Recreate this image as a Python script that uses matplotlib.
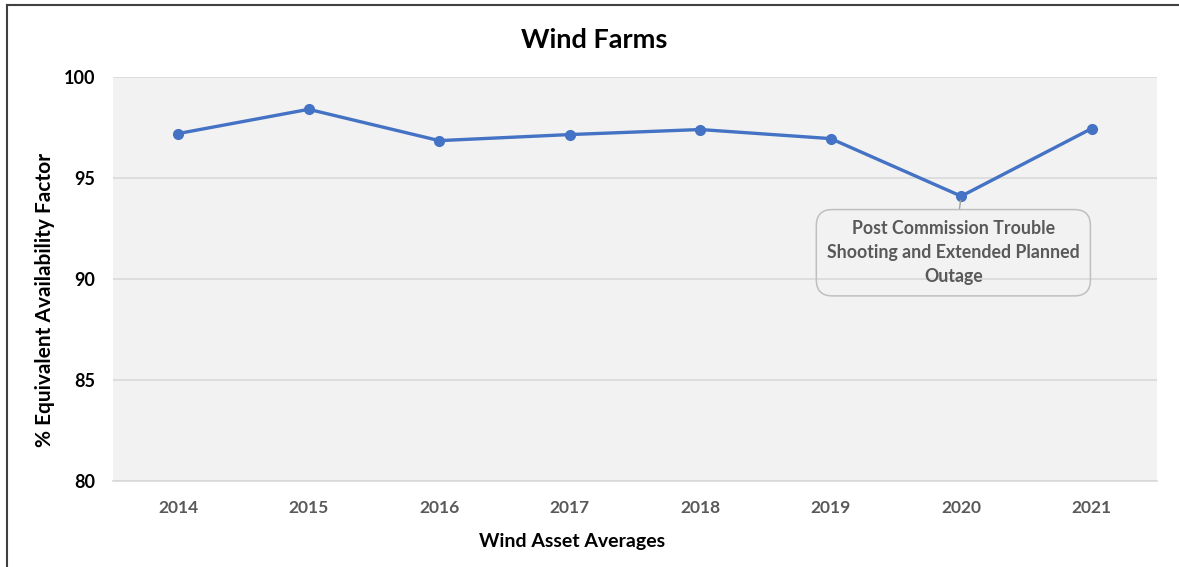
import matplotlib.pyplot as plt
from matplotlib.lines import Line2D

years = ['2014', '2015', '2016', '2017', '2018', '2019', '2020', '2021']
eaf = [97.2, 98.4, 96.85, 97.15, 97.4, 96.95, 94.1, 97.45]
note = "Post Commission Trouble\nShooting and Extended Planned\nOutage"
note_year = '2020'

plt.rcParams['font.family'] = ['Lato', 'DejaVu Sans']

fig = plt.figure(figsize=(11.79, 5.67), dpi=100)
ax = fig.add_axes([0.0958, 0.1517, 0.8855, 0.7125])
ax.set_facecolor('#f2f2f2')

x = list(range(len(years)))
ax.plot(x, eaf, color='#4472c4', linewidth=2.4, marker='o', markersize=7, zorder=3)

ax.set_xlim(-0.5, len(years) - 0.5)
ax.set_ylim(80, 100)
ax.set_yticks([80, 85, 90, 95, 100])
ax.set_xticks(x)
ax.set_xticklabels(years)
ax.grid(axis='y', color='#d9d9d9', linewidth=1.2)
ax.set_axisbelow(True)
for s in ['top', 'right', 'left']:
    ax.spines[s].set_visible(False)
ax.spines['bottom'].set_color('#d9d9d9')
ax.spines['bottom'].set_linewidth(1.2)
ax.tick_params(length=0)
ax.tick_params(axis='x', pad=14, colors='#595959', labelsize=12.5)
ax.tick_params(axis='y', pad=13, colors='black', labelsize=13)
for t in ax.get_xticklabels() + ax.get_yticklabels():
    t.set_fontweight('bold')

ax.set_xlabel('Wind Asset Averages', fontsize=14, fontweight='bold')
ax.xaxis.set_label_coords(0.44, -0.151)
ax.xaxis.label.set_va('center')
ax.set_ylabel('% Equivalent Availability Factor', fontsize=15, fontweight='bold')
ax.yaxis.set_label_coords(-0.065, 0.448)
ax.yaxis.label.set_va('center')
fig.suptitle('Wind Farms', fontsize=19.5, fontweight='bold', x=0.504, y=0.929, va='center')

# callout for the 2020 dip
i = years.index(note_year)
ax.annotate(note, xy=(i, eaf[i]), xytext=(i - 0.06, 91.3),
            ha='center', va='center', fontsize=12.8, fontweight='bold', color='#595959',
            linespacing=1.5,
            bbox=dict(boxstyle='round,pad=0.6,rounding_size=0.9', fc='none', ec='#bfbfbf', lw=1.1),
            arrowprops=dict(arrowstyle='-', color='#a0a0a0', lw=1, shrinkA=0, shrinkB=3))

# frame edges on the left and top
fig.add_artist(Line2D([0.006, 0.006], [0, 0.992], color='#404040', lw=1.5))
fig.add_artist(Line2D([0.006, 1], [0.992, 0.992], color='#404040', lw=1.5))

fig.savefig('out.png', dpi=100)
